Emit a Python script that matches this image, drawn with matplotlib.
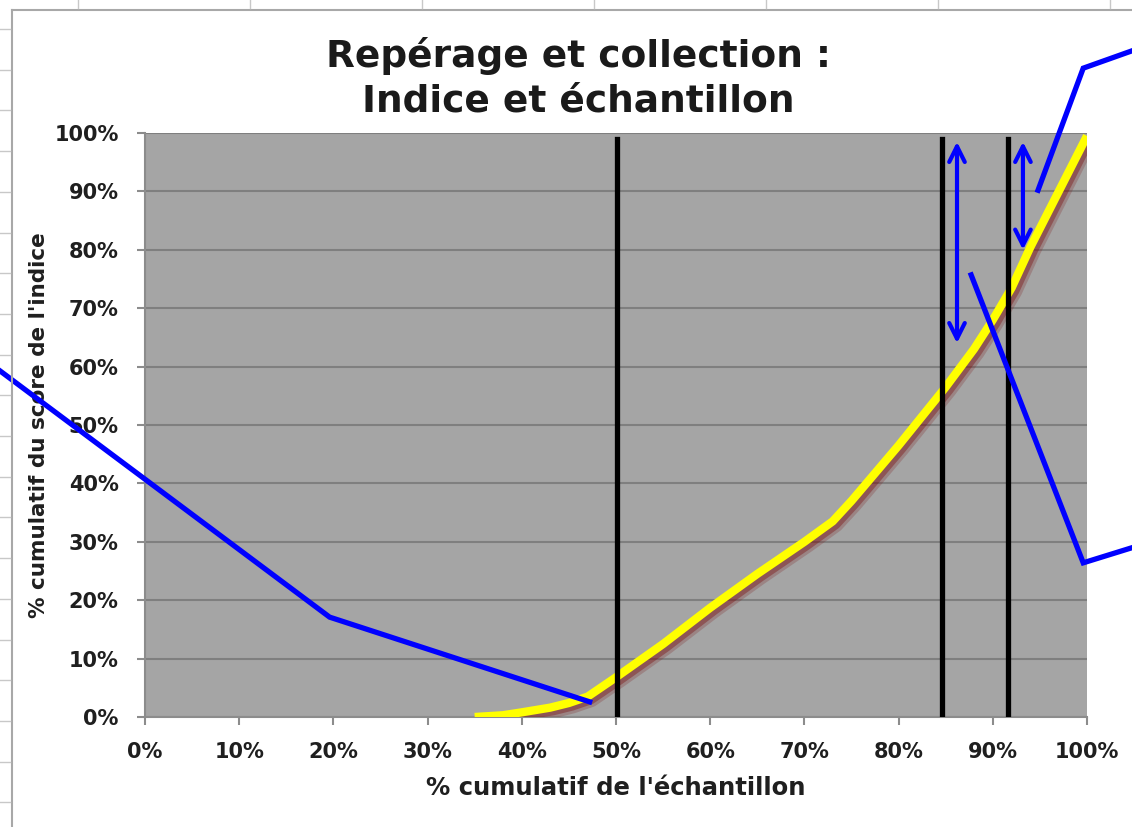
import matplotlib
matplotlib.use('Agg')
import matplotlib.pyplot as plt
import matplotlib.patheffects as pe
from matplotlib.lines import Line2D
from matplotlib.ticker import PercentFormatter

plt.rcParams['font.family'] = ['DejaVu Sans']

# courbe : % cumulatif de l'échantillon -> % cumulatif du score de l'indice
ech = [0.35, 0.38, 0.40, 0.43, 0.45, 0.47, 0.50, 0.55, 0.60, 0.65, 0.70, 0.73,
       0.75, 0.80, 0.85, 0.88, 0.90, 0.92, 0.94, 0.97, 1.00]
score = [0.0, 0.003, 0.008, 0.016, 0.024, 0.035, 0.068, 0.125, 0.187, 0.245,
         0.300, 0.335, 0.370, 0.465, 0.565, 0.630, 0.680, 0.735, 0.805, 0.900, 0.995]

# seuils (lignes verticales noires)
seuils = [0.501, 0.846, 0.916]
seuil_haut = 0.99

# flèches doubles bleues : x, y bas, y haut
fleches_x = [0.862, 0.932]
fleches_bas = [0.64, 0.80]
fleches_haut = [0.985, 0.985]

# lignes de rappel bleues (hors graphique en partie)
rappel_gauche_x = [-0.16, 0.196, 0.472]
rappel_gauche_y = [0.60, 0.171, 0.026]
rappel_haut_x = [0.948, 0.996, 1.05]
rappel_haut_y = [0.902, 1.111, 1.142]
rappel_bas_x = [0.877, 0.996, 1.05]
rappel_bas_y = [0.757, 0.264, 0.291]

W, H = 1132, 827
fig = plt.figure(figsize=(W / 100, H / 100), dpi=100)
ax = fig.add_axes([145 / W, 1 - 717 / H, (1087 - 145) / W, (717 - 133) / H])
ax.set_facecolor('#a5a5a5')

ax.set_xlim(0, 1)
ax.set_ylim(0, 1)
ax.set_xticks([i / 10 for i in range(11)])
ax.set_yticks([i / 10 for i in range(11)])
ax.xaxis.set_major_formatter(PercentFormatter(1.0, decimals=0))
ax.yaxis.set_major_formatter(PercentFormatter(1.0, decimals=0))
ax.grid(axis='y', color='#7f7f7f', lw=1.5)
ax.set_axisbelow(True)
for s in ['top', 'right']:
    ax.spines[s].set_visible(False)
for s in ['left', 'bottom']:
    ax.spines[s].set_color('#8c8c8c')
    ax.spines[s].set_linewidth(1.5)
ax.tick_params(length=6, width=1.5, color='#8c8c8c', labelsize=15)
ax.tick_params(axis='y', pad=13)
ax.tick_params(axis='x', pad=12)
for lab in ax.get_xticklabels() + ax.get_yticklabels():
    lab.set_fontweight('bold')
    lab.set_color('#1f1f1f')

ax.plot(ech, score, color='#ffff00', lw=6, solid_capstyle='butt', zorder=3,
        path_effects=[pe.SimpleLineShadow(offset=(3, -3), shadow_color='#7a1010', alpha=0.22, linewidth=9),
                      pe.SimpleLineShadow(offset=(2.5, -2.5), shadow_color='#7a1010', alpha=0.4),
                      pe.Normal()])

for x in seuils:
    ax.plot([x, x], [0, seuil_haut], color='black', lw=3.8, zorder=4)

for x, b, h in zip(fleches_x, fleches_bas, fleches_haut):
    ax.annotate('', xy=(x, h), xytext=(x, b), zorder=5,
                arrowprops=dict(arrowstyle='<->', color='#0000ff', lw=3,
                                mutation_scale=28, shrinkA=0, shrinkB=0))

for xs, ys in [(rappel_gauche_x, rappel_gauche_y), (rappel_haut_x, rappel_haut_y),
               (rappel_bas_x, rappel_bas_y)]:
    ax.plot(xs, ys, color='#0000ff', lw=3.8, clip_on=False, zorder=6,
            solid_joinstyle='miter')

ax.set_xlabel("% cumulatif de l'échantillon", fontsize=17.5, fontweight='bold',
              color='#1f1f1f', labelpad=10)
ax.set_ylabel("% cumulatif du score de l'indice", fontsize=15.5, fontweight='bold',
              color='#1f1f1f', labelpad=4)
fig.text(578 / W, 1 - 78 / H, "Repérage et collection :\nIndice et échantillon",
         ha='center', va='center', fontsize=27, fontweight='bold', color='#1a1a1a',
         linespacing=1.3)

# cadre du graphique et repères de la feuille
fig.add_artist(Line2D([12 / W, 12 / W], [0, 1 - 10 / H], color='#a8a8a8', lw=1.5))
fig.add_artist(Line2D([12 / W, 1], [1 - 10 / H, 1 - 10 / H], color='#a8a8a8', lw=1.5))
for k in range(20):
    y = 29 + 40.7 * k
    if y < H:
        fig.add_artist(Line2D([0, 10 / W], [1 - y / H, 1 - y / H], color='#c8c8c8', lw=1))
for x in [78, 250, 422, 594, 766, 938, 1110]:
    fig.add_artist(Line2D([x / W, x / W], [1, 1 - 8 / H], color='#c8c8c8', lw=1))

fig.savefig('out.png', dpi=100)
